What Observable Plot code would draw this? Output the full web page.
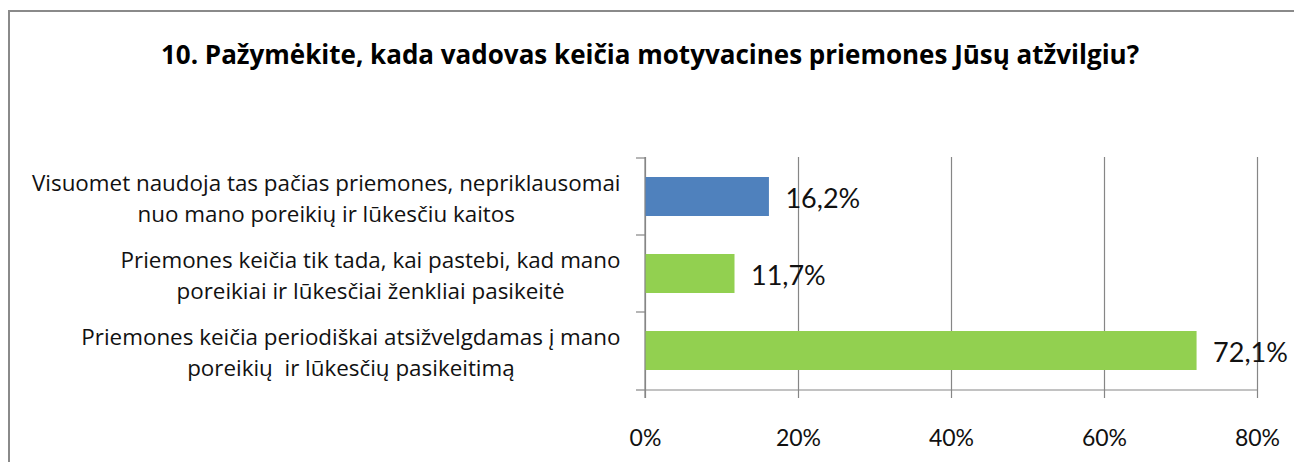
<!DOCTYPE html>
<html>
<head>
<meta charset="utf-8">
<script src="https://cdn.jsdelivr.net/npm/d3@7"></script>
<script src="https://cdn.jsdelivr.net/npm/@observablehq/plot@0.6"></script>
<style>
  body { margin: 0; background: #fff; }
  #wrap { position: relative; width: 1294px; height: 462px; overflow: hidden; background: #fff; font-family: Lato, sans-serif; }
  #frame { position: absolute; left: 8px; top: 10px; width: 1300px; height: 470px; border-left: 2px solid #8a8a8a; border-top: 2px solid #8a8a8a; box-sizing: border-box; }
  #title { position: absolute; top: 36px; left: 3px; width: 1294px; text-align: center; font-family: "Open Sans", sans-serif; font-weight: bold; font-size: 26px; line-height: normal; color: #000; white-space: nowrap; }
  #chart { position: absolute; left: 0; top: 0; }
</style>
</head>
<body>
<div id="wrap">
  <div id="frame"></div>
  <div id="title">10. Pažymėkite, kada vadovas keičia motyvacines priemones Jūsų atžvilgiu?</div>
  <div id="chart"></div>
</div>
<script>
const categories = [
  "Visuomet naudoja tas pačias priemones, nepriklausomai\nnuo mano poreikių ir lūkesčiu kaitos",
  "Priemones keičia tik tada, kai pastebi, kad mano\nporeikiai ir lūkesčiai ženkliai pasikeitė",
  "Priemones keičia periodiškai atsižvelgdamas į mano\nporeikių  ir lūkesčių pasikeitimą"
];
const values = [16.2, 11.7, 72.1];
const barColors = ["#4F81BD", "#92D050", "#92D050"];
const xTicks = [0, 20, 40, 60, 80];
const xTickLabels = ["0%", "20%", "40%", "60%", "80%"];

const data = categories.map((c, i) => ({category: c, value: values[i], color: barColors[i]}));

const labelFont = 22.4;
const labelFamily = "Open Sans";
const ctx = document.createElement("canvas").getContext("2d");
ctx.font = `${labelFont}px "${labelFamily}"`;
const labelWidths = categories.map(c => d3.max(c.split("\n"), l => ctx.measureText(l.replace(/  +/g, " ")).width));

const gridColor = "#868686";

const plot = Plot.plot({
  width: 1294,
  height: 462,
  marginTop: 157,
  marginBottom: 72,
  marginLeft: 645,
  marginRight: 37,
  style: {fontFamily: "Lato, sans-serif", background: "transparent", color: "#111"},
  x: {domain: [0, 80], ticks: xTicks, tickFormat: (d) => xTickLabels[xTicks.indexOf(d)]},
  y: {domain: categories, paddingInner: 0.5, paddingOuter: 0.25, axis: null},
  color: {type: "identity"},
  marks: [
    Plot.gridX(xTicks, {stroke: gridColor, strokeOpacity: 1, strokeWidth: 1.2}),
    Plot.barX(data, {x: "value", y: "category", fill: "color"}),
    Plot.axisX(xTicks, {tickSize: 8, tickPadding: 31, fontSize: 23, stroke: gridColor, strokeWidth: 1.2, strokeOpacity: 1, fill: "#111", tickFormat: (d) => xTickLabels[xTicks.indexOf(d)], label: null}),
    Plot.text(data, {
      x: "value", y: "category",
      text: (d) => d.value.toFixed(1).replace(".", ",") + "%",
      textAnchor: "start", dx: 16, dy: 2, fontSize: 27, fill: "#111"
    }),
    ...data.map((d, i) => Plot.text([d], {
      y: "category", text: "category", frameAnchor: "left",
      textAnchor: "middle", lineHeight: 1.38, fontSize: labelFont, fontFamily: labelFamily, fill: "#111",
      dx: -(25 + labelWidths[i] / 2), dy: 0
    }))
  ]
});

document.getElementById("chart").appendChild(plot);

// Axis lines and category boundary ticks from the plot's own scales
const xs = plot.scale("x"), ys = plot.scale("y");
const x0 = xs.apply(0), x1 = xs.apply(80);
const [yTop, yBottom] = ys.range;
const gap = ys.step - ys.bandwidth;
const bounds = categories.map(c => ys.apply(c) - gap / 2).concat([yBottom]);
const svg = d3.select(plot);
const g = svg.append("g").attr("stroke", gridColor).attr("stroke-width", 1.2);
g.append("line").attr("x1", x0).attr("x2", x0).attr("y1", yTop).attr("y2", yBottom + 8);
g.append("line").attr("x1", x0).attr("x2", x1).attr("y1", yBottom).attr("y2", yBottom);
bounds.forEach(b => g.append("line").attr("x1", x0 - 9).attr("x2", x0).attr("y1", b).attr("y2", b));
</script>
</body>
</html>
